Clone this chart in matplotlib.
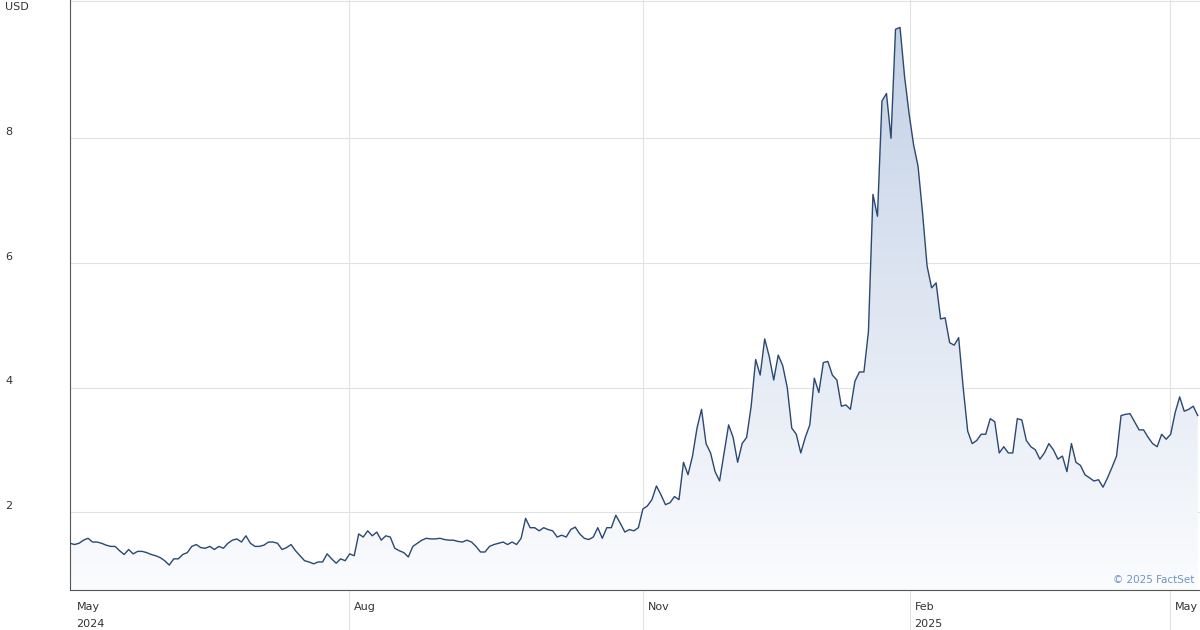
import matplotlib
matplotlib.use("Agg")
import matplotlib.pyplot as plt
import numpy as np
from matplotlib.transforms import blended_transform_factory
from matplotlib.colors import LinearSegmentedColormap

prices_may_aug = [1.5,1.48,1.5,1.55,1.58,1.52,1.52,1.5,1.47,1.45,1.45,1.38,1.32,1.40,1.33,1.37,1.37,1.35,1.32,1.30,1.27,1.22,1.15,1.25,1.25,1.32,1.35,1.45,1.48,1.43,1.42,1.45,1.40,1.45,1.42,1.50,1.55,1.57,1.52,1.62,1.50,1.45,1.45,1.47,1.52,1.52,1.50,1.40,1.43,1.48,1.38,1.30,1.22,1.20,1.17,1.20,1.20,1.33,1.25,1.18,1.25,1.22,1.33,1.30]
prices_aug_nov = [1.65,1.60,1.70,1.62,1.68,1.55,1.62,1.60,1.42,1.38,1.35,1.28,1.45,1.50,1.55,1.58,1.57,1.57,1.58,1.56,1.55,1.55,1.53,1.52,1.55,1.52,1.45,1.36,1.36,1.45,1.48,1.50,1.52,1.48,1.52,1.48,1.58,1.90,1.75,1.75,1.70,1.75,1.72,1.70,1.60,1.63,1.60,1.72,1.76,1.65,1.58,1.56,1.60,1.75,1.58,1.75,1.75,1.95,1.82,1.68,1.72,1.70,1.75]
prices_nov_feb = [2.05,2.10,2.20,2.42,2.28,2.12,2.15,2.25,2.20,2.80,2.60,2.90,3.35,3.65,3.10,2.95,2.65,2.50,2.95,3.40,3.20,2.80,3.10,3.20,3.70,4.45,4.20,4.78,4.50,4.12,4.52,4.35,4.00,3.35,3.25,2.95,3.20,3.40,4.15,3.92,4.40,4.42,4.20,4.12,3.70,3.72,3.65,4.10,4.25,4.25,4.90,7.10,6.75,8.60,8.72,8.00,9.75,9.78,9.00,8.40,7.90,7.55]
prices_feb_may = [6.80,5.95,5.60,5.68,5.10,5.12,4.72,4.68,4.80,4.00,3.30,3.10,3.15,3.25,3.25,3.50,3.45,2.95,3.05,2.95,2.95,3.50,3.48,3.15,3.05,3.00,2.85,2.95,3.10,3.00,2.85,2.90,2.65,3.10,2.80,2.75,2.60,2.55,2.50,2.52,2.40,2.55,2.72,2.90,3.55,3.57,3.58,3.45,3.32,3.32,3.20,3.10,3.05,3.25,3.17,3.25,3.60,3.85,3.62,3.65,3.70,3.55]
prices = prices_may_aug + prices_aug_nov + prices_nov_feb + prices_feb_may

month_labels = ["May", "Aug", "Nov", "Feb", "May"]
year_labels = ["2024", "", "", "2025", ""]
y_ticks = [2, 4, 6, 8]

y = np.array(prices)
x = np.arange(len(y))
n = len(y)
ymin, ymax = 0.75, 10.22
xmax = n - 1 + 0.5
# month boundary positions in index units (from reference pixel positions)
month_pos = [xmax * f for f in [2/1130, 279/1130, 573/1130, 840/1130, 1100/1130]]

fig = plt.figure(figsize=(12, 6.3), dpi=100)
ax = fig.add_axes([70/1200, 40/630, 1130/1200, 590/630])
ax.set_xlim(0, xmax)
ax.set_ylim(ymin, ymax)

grad = np.linspace(0, 1, 256).reshape(-1, 1)
cmap = LinearSegmentedColormap.from_list("g", ["#fbfcfe", "#c3d1e6"])
im = ax.imshow(grad, cmap=cmap, aspect="auto", origin="lower",
               extent=[0, n - 1, ymin, y.max()], zorder=1, vmin=0, vmax=1)
poly = ax.fill_between(x, y, ymin, color="none", zorder=1)
im.set_clip_path(poly.get_paths()[0], transform=ax.transData)
ax.plot(x, y, color="#2b4870", lw=1.0, zorder=3)

for t in y_ticks:
    ax.axhline(t, color="#e2e2e2", lw=0.8, zorder=0)
ax.axhline(ymax - 0.02, color="#e2e2e2", lw=0.8, zorder=0)
for p in month_pos[1:]:
    ax.axvline(p, color="#e2e2e2", lw=0.8, zorder=0, ymin=-40/590, clip_on=False)

for s in ["top", "right"]:
    ax.spines[s].set_visible(False)
for s in ["left", "bottom"]:
    ax.spines[s].set_color("#555555")
    ax.spines[s].set_linewidth(0.8)
ax.set_xticks([]); ax.set_yticks([])

for t in y_ticks:
    txt = fig.text(5/1200, 0, str(t), fontsize=8, color="#333333", va="bottom", ha="left",
                   transform=blended_transform_factory(fig.transFigure, ax.transData))
    txt.set_y(t + 0.02)
fig.text(5/1200, 1 - 7/630, "USD", fontsize=8, color="#333333", va="center", ha="left")

trx = blended_transform_factory(ax.transData, fig.transFigure)
for p, m, yr in zip(month_pos, month_labels, year_labels):
    fig.text(p + 1.0, 1 - 607/630, m, transform=trx, fontsize=8, color="#333333",
             va="center", ha="left")
    if yr:
        fig.text(p + 1.0, 1 - 624/630, yr, transform=trx, fontsize=8, color="#333333",
                 va="center", ha="left")

fig.text(1194/1200, 1 - 580/630, "© 2025 FactSet", fontsize=7.5, color="#6f93c4",
         ha="right", va="center")

fig.savefig("out.png", dpi=100)
